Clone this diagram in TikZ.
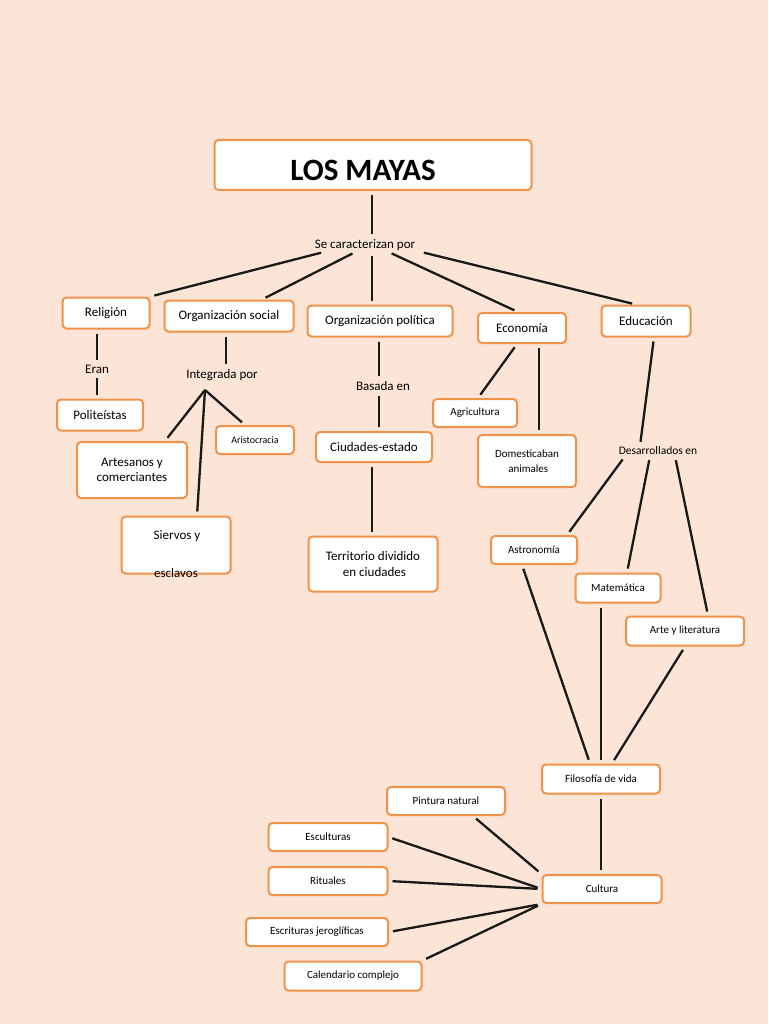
\documentclass[tikz,border=0pt]{standalone}
\usepackage{fontspec}
\setmainfont{Carlito}
\definecolor{bg}{HTML}{FCE5D6}
\definecolor{bd}{HTML}{F0924A}
\begin{document}
\begin{tikzpicture}[x=1pt,y=-1pt,
 box/.style={draw=bd,line width=2pt,fill=white,rounded corners=4pt,inner sep=0pt,font=\fontsize{13}{15.5}\selectfont,align=center},
 sm/.style={font=\fontsize{11}{15}\selectfont},
 lbl/.style={font=\fontsize{13}{15}\selectfont,inner sep=1pt},
 ln/.style={line width=2.3pt,black!90,shorten >=4pt,shorten <=4pt}]
\fill[bg] (0,0) rectangle (768,1024);
\useasboundingbox (0,0) rectangle (768,1024);
\node[box,minimum width=317,minimum height=50] (title) at (373,165) {};
\node[font=\fontsize{31}{34}\selectfont\bfseries] at (363,170) {LOS MAYAS};
\node[lbl] (sc) at (365,245) {Se caracterizan por};
\node[box,minimum width=87,minimum height=31] (rel) at (106,313) {Religión};
\node[box,minimum width=129,minimum height=31] (os) at (229,316) {Organización social};
\node[box,minimum width=145,minimum height=31] (op) at (380,321) {Organización política};
\node[box,minimum width=88,minimum height=30] (eco) at (522,328) {Economía};
\node[box,minimum width=89,minimum height=31] (edu) at (646,321) {Educación};
\node[lbl] (eran) at (97,369) {Eran};
\node[box,minimum width=86,minimum height=31] (pol) at (100,415) {Politeístas};
\node[lbl] (int) at (222,375) {Integrada por};
\coordinate (ip) at (205,390);
\node[box,font=\fontsize{10}{12}\selectfont,minimum width=78,minimum height=28] (ari) at (255,440) {Aristocracia};
\node[box,minimum width=110,minimum height=56] (art) at (132,470) {Artesanos y\\comerciantes};
\node[box,minimum width=109,minimum height=57] (sie) at (176,545) {};
\node[lbl] at (177,536) {Siervos y};
\node[lbl] at (176,573) {esclavos};
\node[lbl] (bas) at (383,386) {Basada en};
\node[box,minimum width=116,minimum height=30] (ciu) at (374,447) {Ciudades-estado};
\node[box,minimum width=129,minimum height=55] (ter) at (373,564) {Territorio dividido\\\ en ciudades};
\node[box,sm,minimum width=84,minimum height=28] (agr) at (475,413) {Agricultura};
\node[box,sm,minimum width=98,minimum height=52] (dom) at (527,461) {Domesticaban\\\ animales};
\node[lbl,font=\fontsize{11.5}{13}\selectfont] (des) at (658,451) {Desarrollados en};
\node[box,sm,minimum width=86,minimum height=28] (ast) at (534,550) {Astronomía};
\node[box,sm,minimum width=85,minimum height=29] (mat) at (618,588) {Matemática};
\node[box,sm,minimum width=118,minimum height=29] (arl) at (685,631) {Arte y literatura};
\node[box,sm,minimum width=118,minimum height=29] (fil) at (601,779) {Filosofía de vida};
\node[box,sm,minimum width=118,minimum height=28] (pin) at (446,801) {Pintura natural};
\node[box,sm,minimum width=119,minimum height=28] (esc) at (328,837) {Esculturas};
\node[box,sm,minimum width=119,minimum height=28] (rit) at (328,881) {Rituales};
\node[box,sm,minimum width=119,minimum height=28] (cul) at (602,889) {Cultura};
\node[box,sm,minimum width=142,minimum height=28] (escr) at (317,932) {Escrituras jeroglíficas};
\node[box,sm,minimum width=137,minimum height=29] (cal) at (353,976) {Calendario complejo};
% connectors
\draw[ln] (title.south -| 372,0) -- (sc.north -| 372,0);
\draw[ln] (sc.south -| 325,0) -- (rel.north east);
\draw[ln] (sc.south -| 356,0) -- (os.north -| 262,0);
\draw[ln] (sc.south -| 372,0) -- (op.north -| 372,0);
\draw[ln] (sc.south -| 388,0) -- (eco.north -| 518,0);
\draw[ln] (sc.south -| 420,0) -- (edu.north -| 636,0);
\draw[ln] (rel.south -| 97,0) -- (eran.north);
\draw[ln] (eran.south) -- (pol.north -| 97,0);
\draw[ln] (os.south -| 226,0) -- (int.north -| 226,0);
\draw[ln,shorten <=0pt] (ip) -- (art.north -| 165,0);
\draw[ln,shorten <=0pt] (ip) -- (sie.north -| 197,0);
\draw[ln,shorten <=0pt] (ip) -- (ari.north -| 245,0);
\draw[ln] (op.south -| 379,0) -- (bas.north -| 379,0);
\draw[ln] (bas.south -| 379,0) -- (ciu.north -| 379,0);
\draw[ln] (ciu.south -| 372,0) -- (ter.north -| 372,0);
\draw[ln] (eco.south -| 517,0) -- (agr.north -| 478,0);
\draw[ln] (eco.south -| 539,0) -- (dom.north -| 539,0);
\draw[ln] (edu.south -| 654,0) -- (des.north -| 640,0);
\draw[ln] (des.south -| 625,0) -- (ast.north -| 567,0);
\draw[ln] (des.south -| 650,0) -- (mat.north -| 627,0);
\draw[ln] (des.south -| 675,0) -- (arl.north -| 708,0);
\draw[ln] (ast.south -| 522,0) -- (fil.north -| 590,0);
\draw[ln] (mat.south -| 601,0) -- (fil.north -| 601,0);
\draw[ln] (arl.south) -- (fil.north -| 612,0);
\draw[ln] (fil.south) -- (cul.north -| 601,0);
\draw[ln] (pin.south -| 473,0) -- (cul.north west);
\draw[ln] (esc.east) -- (cul.west);
\draw[ln] (rit.east) -- (cul.west);
\draw[ln] (escr.east) -- (cul.south west);
\draw[ln] (cal.north east) -- (cul.south west);
\end{tikzpicture}
\end{document}
